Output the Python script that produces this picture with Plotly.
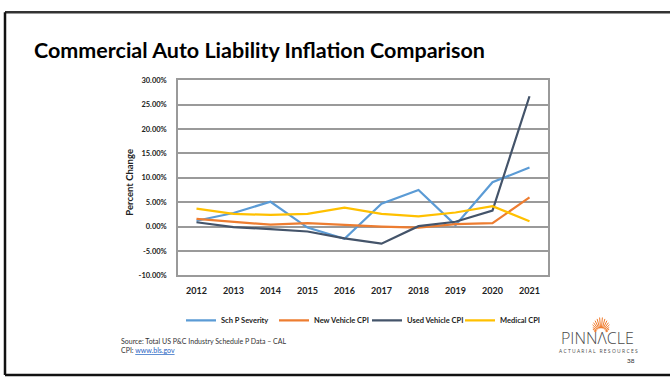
import math
import plotly.graph_objects as go

# Annual percent change by year
years = ["2012", "2013", "2014", "2015", "2016", "2017", "2018", "2019", "2020", "2021"]
sch_p_severity = [1.2, 2.8, 5.1, -0.2, -2.5, 4.7, 7.5, 0.3, 9.1, 12.1]
new_vehicle_cpi = [1.6, 1.0, 0.4, 0.7, 0.3, 0.0, -0.2, 0.5, 0.7, 6.0]
used_vehicle_cpi = [0.9, -0.1, -0.5, -1.0, -2.4, -3.5, 0.1, 1.0, 3.3, 26.7]
medical_cpi = [3.7, 2.6, 2.4, 2.6, 3.9, 2.6, 2.1, 2.9, 4.2, 1.1]

series_names = ["Sch P Severity", "New Vehicle CPI", "Used Vehicle CPI", "Medical CPI"]
series_values = [sch_p_severity, new_vehicle_cpi, used_vehicle_cpi, medical_cpi]
series_colors = ["#5B9BD5", "#ED7D31", "#44546A", "#FFC000"]

y_ticks = [-10, -5, 0, 5, 10, 15, 20, 25, 30]

W, H = 670, 382
FONT = "Lato"


def px(x):
    return x / W


def py(y):
    return 1 - y / H


fig = go.Figure()
for name, vals, color in zip(series_names, series_values, series_colors):
    fig.add_trace(go.Scatter(
        x=years, y=vals, name=name, mode="lines",
        line=dict(color=color, width=2.2),
    ))

grid_gray = "#9a9a9a"

fig.update_layout(
    width=W, height=H,
    margin=dict(l=0, r=0, t=0, b=0),
    paper_bgcolor="white", plot_bgcolor="white",
    font=dict(family=FONT, color="#222"),
    xaxis=dict(
        domain=[px(178), px(548)],
        type="category", range=[-0.5, 9.5],
        showgrid=False, zeroline=False,
        showline=True, mirror=True, linecolor=grid_gray, linewidth=1.5,
        ticks="", ticklabelstandoff=6,
        tickfont=dict(size=9, family=FONT, weight="bold", color="#222"),
        fixedrange=True,
    ),
    yaxis=dict(
        domain=[py(278), py(78)],
        range=[-10, 30], tickvals=y_ticks,
        ticktext=[f"{v:.2f}%" for v in y_ticks],
        showgrid=True, gridcolor=grid_gray, gridwidth=1.5,
        zeroline=False,
        showline=True, mirror=True, linecolor=grid_gray, linewidth=1.5,
        ticks="", ticklabelstandoff=8,
        tickfont=dict(size=7.5, family=FONT, weight="bold", color="#222"),
        fixedrange=True,
    ),
    legend=dict(
        orientation="h", x=px(181), xanchor="left", y=py(324), yanchor="middle",
        font=dict(size=7.5, family=FONT, weight="bold", color="#222"),
        itemwidth=30, entrywidth=48, entrywidthmode="pixels",
        bgcolor="rgba(0,0,0,0)",
    ),
    showlegend=True,
)


def note(text, x, y, size, **kw):
    d = dict(text=text, x=px(x), y=py(y), xref="paper", yref="paper",
             xanchor=kw.pop("xanchor", "left"), yanchor="middle",
             showarrow=False, font=dict(size=size, family=kw.pop("family", FONT),
                                        color=kw.pop("color", "#333"),
                                        weight=kw.pop("weight", "normal")))
    d.update(kw)
    return d


annotations = [
    note("<b>Commercial Auto Liability Inflation Comparison</b>", 32, 47, 21.5, color="#000"),
    note("<b>Percent Change</b>", 130, 183, 9.5, xanchor="center", textangle=-90, color="#222"),
    note("Source: Total US P&amp;C Industry Schedule P Data – CAL", 119, 345, 7),
    note("CPI: <a href='http://www.bls.gov' style='color:#1F5FBF'><u>www.bls.gov</u></a>", 119, 354, 7),
    note("PINNΛCLE", 597, 342.5, 16, xanchor="center", family="Open Sans",
         color="#4a4a4a", weight=300),
    note("A C T U A R I A L   R E S O U R C E S", 598, 355.5, 5, xanchor="center",
         family="Open Sans", color="#4a4a4a"),
    note("38", 631, 365, 6.5, xanchor="center"),
]
fig.update_layout(annotations=annotations)

shapes = []
# slide frame
shapes.append(dict(type="line", xref="paper", yref="paper",
                   x0=px(5), x1=1.01, y0=py(8.5), y1=py(8.5),
                   line=dict(color="#333", width=2.5)))
shapes.append(dict(type="line", xref="paper", yref="paper",
                   x0=px(5), x1=px(5), y0=py(8.5), y1=py(380),
                   line=dict(color="#111", width=2.5)))
shapes.append(dict(type="line", xref="paper", yref="paper",
                   x0=px(5), x1=1.01, y0=py(380), y1=py(380),
                   line=dict(color="#111", width=2.5)))

# sunburst over the logo
cx, cy = 601, 337
ray_angles = [15, 25, 35, 45, 55, 65, 75, 85, 95, 105, 115, 125, 135, 145, 155, 165]
ray_lengths = [7, 9, 10, 12, 13, 14, 15, 16, 16, 15, 14, 13, 12, 10, 9, 7]
for ang, ln in zip(ray_angles, ray_lengths):
    a = math.radians(ang)
    r0 = 5
    x0 = cx + r0 * math.cos(a)
    y0 = cy - r0 * math.sin(a)
    x1 = cx + ln * math.cos(a)
    y1 = cy - ln * math.sin(a)
    shapes.append(dict(type="line", xref="paper", yref="paper",
                       x0=px(x0), y0=py(y0), x1=px(x1), y1=py(y1),
                       line=dict(color="#F07A2A", width=1)))
fig.update_layout(shapes=shapes)

fig.write_html("out.html")
